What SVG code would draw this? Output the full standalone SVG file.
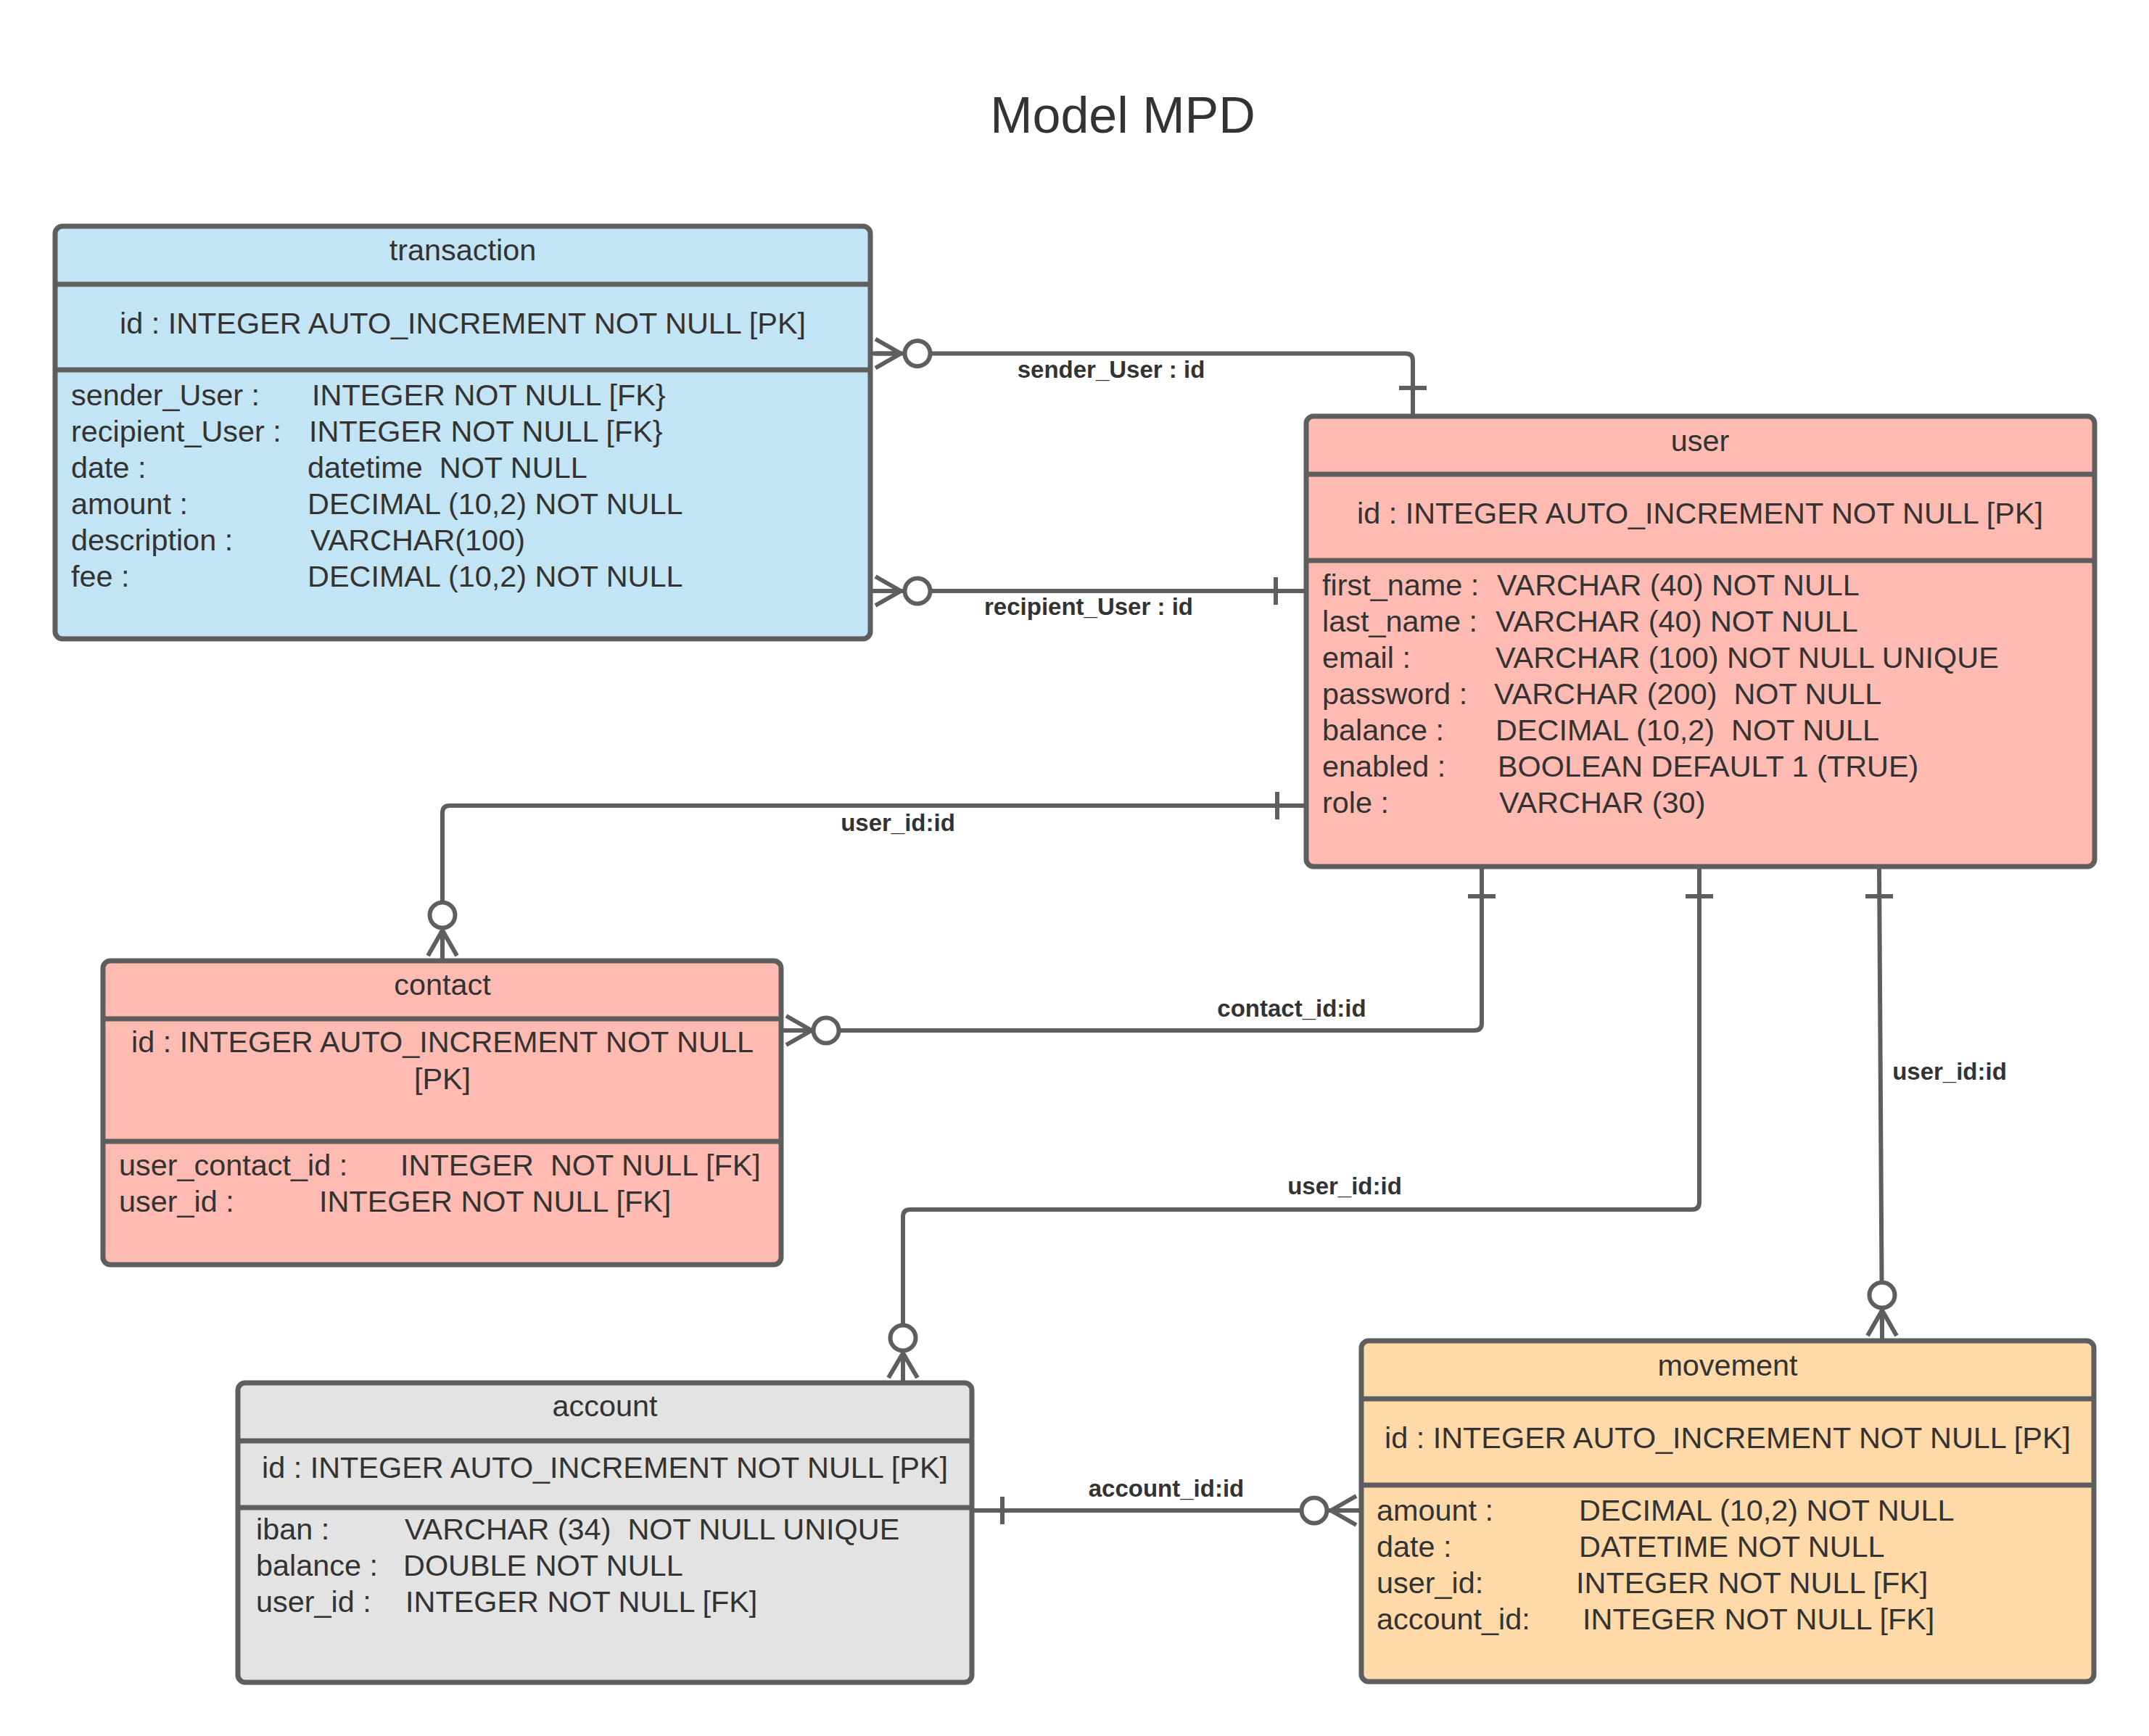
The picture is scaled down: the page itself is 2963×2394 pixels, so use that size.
<svg xmlns="http://www.w3.org/2000/svg" width="2963" height="2394" viewBox="0 0 2963 2394">
<style>
.box{stroke:#5e5e5e;stroke-width:7}
.sep{stroke:#5e5e5e;stroke-width:7}
.t{font-family:"Liberation Sans",Arial,sans-serif;font-size:41.4px;fill:#333333}
.c{text-anchor:middle}
.lbl{font-family:"Liberation Sans",Arial,sans-serif;font-size:33px;font-weight:bold;fill:#333333;text-anchor:middle}
.ln{fill:none;stroke:#5e5e5e;stroke-width:6;stroke-linejoin:round}
.cir{fill:#ffffff;stroke:#5e5e5e;stroke-width:6}
.title{font-family:"Liberation Sans",Arial,sans-serif;font-size:70px;fill:#333333;text-anchor:middle}
</style>
<rect width="2963" height="2394" fill="#ffffff"/>
<text class="title" x="1548" y="183">Model MPD</text>

<g id="transaction">
<rect class="box" x="76" y="312" width="1124" height="569" rx="10" fill="#c3e4f5"/>
<line class="sep" x1="76" y1="392" x2="1200" y2="392"/>
<line class="sep" x1="76" y1="510" x2="1200" y2="510"/>
<text class="t c" x="638" y="359">transaction</text>
<text class="t c" x="638" y="460">id : INTEGER AUTO_INCREMENT NOT NULL [PK]</text>
<text class="t" x="98" y="559">sender_User :</text><text class="t" x="430" y="559">INTEGER NOT NULL [FK}</text>
<text class="t" x="98" y="609">recipient_User :</text><text class="t" x="426" y="609">INTEGER NOT NULL [FK}</text>
<text class="t" x="98" y="659">date :</text><text class="t" x="424" y="659" xml:space="preserve">datetime  NOT NULL</text>
<text class="t" x="98" y="709">amount :</text><text class="t" x="424" y="709">DECIMAL (10,2) NOT NULL</text>
<text class="t" x="98" y="759">description :</text><text class="t" x="428" y="759">VARCHAR(100)</text>
<text class="t" x="98" y="809">fee :</text><text class="t" x="424" y="809">DECIMAL (10,2) NOT NULL</text>
</g>

<g id="user">
<rect class="box" x="1801" y="574" width="1087" height="621" rx="10" fill="#ffbbb1"/>
<line class="sep" x1="1801" y1="654" x2="2888" y2="654"/>
<line class="sep" x1="1801" y1="773" x2="2888" y2="773"/>
<text class="t c" x="2344" y="622">user</text>
<text class="t c" x="2344" y="722">id : INTEGER AUTO_INCREMENT NOT NULL [PK]</text>
<text class="t" x="1823" y="821">first_name :</text><text class="t" x="2064" y="821">VARCHAR (40) NOT NULL</text>
<text class="t" x="1823" y="871">last_name :</text><text class="t" x="2062" y="871">VARCHAR (40) NOT NULL</text>
<text class="t" x="1823" y="921">email :</text><text class="t" x="2062" y="921">VARCHAR (100) NOT NULL UNIQUE</text>
<text class="t" x="1823" y="971">password :</text><text class="t" x="2060" y="971" xml:space="preserve">VARCHAR (200)  NOT NULL</text>
<text class="t" x="1823" y="1021">balance :</text><text class="t" x="2062" y="1021" xml:space="preserve">DECIMAL (10,2)  NOT NULL</text>
<text class="t" x="1823" y="1071">enabled :</text><text class="t" x="2065" y="1071">BOOLEAN DEFAULT 1 (TRUE)</text>
<text class="t" x="1823" y="1121">role :</text><text class="t" x="2067" y="1121">VARCHAR (30)</text>
</g>

<g id="contact">
<rect class="box" x="142" y="1325" width="935" height="419" rx="10" fill="#ffbbb1"/>
<line class="sep" x1="142" y1="1405" x2="1077" y2="1405"/>
<line class="sep" x1="142" y1="1574" x2="1077" y2="1574"/>
<text class="t c" x="610" y="1372">contact</text>
<text class="t c" x="610" y="1451">id : INTEGER AUTO_INCREMENT NOT NULL</text>
<text class="t c" x="610" y="1502">[PK]</text>
<text class="t" x="164" y="1621">user_contact_id :</text><text class="t" x="552" y="1621" xml:space="preserve">INTEGER  NOT NULL [FK]</text>
<text class="t" x="164" y="1671">user_id :</text><text class="t" x="440" y="1671">INTEGER NOT NULL [FK]</text>
</g>

<g id="account">
<rect class="box" x="328" y="1907" width="1012" height="413" rx="10" fill="#e3e3e3"/>
<line class="sep" x1="328" y1="1987" x2="1340" y2="1987"/>
<line class="sep" x1="328" y1="2079" x2="1340" y2="2079"/>
<text class="t c" x="834" y="1953">account</text>
<text class="t c" x="834" y="2038">id : INTEGER AUTO_INCREMENT NOT NULL [PK]</text>
<text class="t" x="353" y="2123">iban :</text><text class="t" x="558" y="2123" xml:space="preserve">VARCHAR (34)  NOT NULL UNIQUE</text>
<text class="t" x="353" y="2173">balance :</text><text class="t" x="556" y="2173">DOUBLE NOT NULL</text>
<text class="t" x="353" y="2223">user_id :</text><text class="t" x="559" y="2223">INTEGER NOT NULL [FK]</text>
</g>

<g id="movement">
<rect class="box" x="1877" y="1849" width="1010" height="470" rx="10" fill="#ffdaa8"/>
<line class="sep" x1="1877" y1="1929" x2="2887" y2="1929"/>
<line class="sep" x1="1877" y1="2048" x2="2887" y2="2048"/>
<text class="t c" x="2382" y="1897">movement</text>
<text class="t c" x="2382" y="1997">id : INTEGER AUTO_INCREMENT NOT NULL [PK]</text>
<text class="t" x="1898" y="2097">amount :</text><text class="t" x="2177" y="2097">DECIMAL (10,2) NOT NULL</text>
<text class="t" x="1898" y="2147">date :</text><text class="t" x="2177" y="2147">DATETIME NOT NULL</text>
<text class="t" x="1898" y="2197">user_id:</text><text class="t" x="2173" y="2197">INTEGER NOT NULL [FK]</text>
<text class="t" x="1898" y="2247">account_id:</text><text class="t" x="2182" y="2247">INTEGER NOT NULL [FK]</text>
</g>

<g id="connectors">
<!-- sender_User : id -->
<path class="ln" d="M1200 487.5 H1938 Q1948 487.5 1948 497.5 V574"/>
<path class="ln" d="M1207 467.5 L1242 487.5 L1207 507.5 M1207 487.5 H1242"/>
<circle class="cir" cx="1265" cy="487.5" r="17.5"/>
<line class="ln" x1="1929" y1="535" x2="1967" y2="535"/>
<text class="lbl" x="1532" y="521">sender_User : id</text>

<!-- recipient_User : id -->
<path class="ln" d="M1200 815 H1800"/>
<path class="ln" d="M1207 795 L1242 815 L1207 835 M1207 815 H1242"/>
<circle class="cir" cx="1265" cy="815" r="17.5"/>
<line class="ln" x1="1759" y1="796" x2="1759" y2="834"/>
<text class="lbl" x="1501" y="848">recipient_User : id</text>

<!-- user_id:id contact -->
<path class="ln" d="M1800 1111 H620 Q610 1111 610 1121 V1325"/>
<path class="ln" d="M590 1318 L610 1283 L630 1318 M610 1318 V1283"/>
<circle class="cir" cx="610" cy="1262" r="17.5"/>
<line class="ln" x1="1761" y1="1092" x2="1761" y2="1130"/>
<text class="lbl" x="1238" y="1146">user_id:id</text>

<!-- contact_id:id -->
<path class="ln" d="M2043 1195 V1411 Q2043 1421 2033 1421 H1077"/>
<path class="ln" d="M1084 1401 L1119 1421 L1084 1441 M1084 1421 H1119"/>
<circle class="cir" cx="1139" cy="1421" r="17.5"/>
<line class="ln" x1="2024" y1="1236" x2="2062" y2="1236"/>
<text class="lbl" x="1781" y="1402">contact_id:id</text>

<!-- user_id:id account -->
<path class="ln" d="M2343 1195 V1658 Q2343 1668 2333 1668 H1255 Q1245 1668 1245 1678 V1907"/>
<path class="ln" d="M1225 1900 L1245 1866 L1265 1900 M1245 1900 V1866"/>
<circle class="cir" cx="1245" cy="1845" r="17.5"/>
<line class="ln" x1="2324" y1="1236" x2="2362" y2="1236"/>
<text class="lbl" x="1854" y="1647">user_id:id</text>

<!-- user_id:id movement -->
<path class="ln" d="M2591 1195 L2595 1849"/>
<path class="ln" d="M2575 1842 L2595 1807 L2615 1842 M2595 1842 V1807"/>
<circle class="cir" cx="2595" cy="1786" r="17.5"/>
<line class="ln" x1="2572" y1="1236" x2="2610" y2="1236"/>
<text class="lbl" x="2688" y="1489">user_id:id</text>

<!-- account_id:id -->
<path class="ln" d="M1340 2083 H1877"/>
<path class="ln" d="M1870 2063 L1835 2083 L1870 2103 M1870 2083 H1835"/>
<circle class="cir" cx="1812" cy="2083" r="17.5"/>
<line class="ln" x1="1382" y1="2064" x2="1382" y2="2102"/>
<text class="lbl" x="1608" y="2064">account_id:id</text>
</g>
</svg>
